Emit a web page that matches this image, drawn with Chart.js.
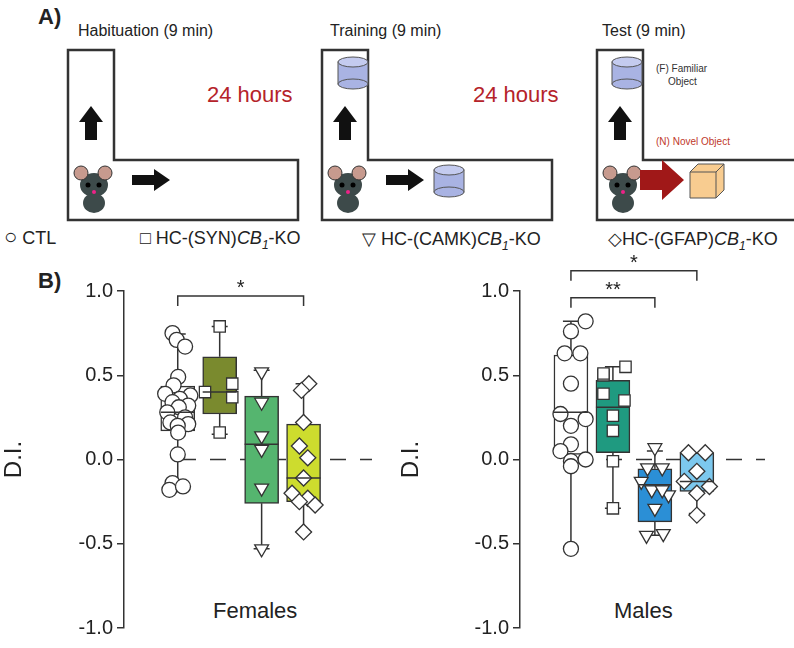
<!DOCTYPE html>
<html><head><meta charset="utf-8">
<script src="https://cdn.jsdelivr.net/npm/chart.js@4.4.1/dist/chart.umd.min.js"></script>
<style>
body{margin:0;width:794px;height:648px;position:relative;background:#fff;font-family:Arial,"Liberation Sans",sans-serif;overflow:hidden;color:#222}
.abs{position:absolute;white-space:nowrap}
canvas{position:absolute}
</style></head><body>
<script>
// ---- data ----
const groups = ['CTL','HC-(SYN)CB1-KO','HC-(CAMK)CB1-KO','HC-(GFAP)CB1-KO'];
const femalePoints = [
 [0.75,0.71,0.67,0.49,0.44,0.39,0.38,0.36,0.34,0.32,0.31,0.28,0.25,0.22,0.21,0.20,0.16,0.03,-0.14,-0.18,-0.16],
 [0.79,0.40,0.37,0.45,0.16],
 [0.52,0.34,0.14,0.06,-0.17,-0.53],
 [0.45,0.41,0.22,0.08,0.01,-0.11,-0.20,-0.23,-0.25,-0.27,-0.43]
];
const femaleJitter = [
 [-0.25,-0.05,0.35,0.02,-0.2,-0.6,0.6,0.1,-0.25,0.5,0.05,-0.5,0.35,-0.35,0.5,0.0,0.02,0,-0.25,-0.4,0.25],
 [0,-0.7,0.6,0.6,0],
 [0,0,0,0,0,0],
 [0.25,-0.1,0,-0.2,0.2,0,-0.55,0.2,-0.2,0.55,0]
];
const femaleBox = { q1:[0.17,0.27,-0.26,-0.25], med:[0.28,0.40,0.09,-0.11], q3:[0.435,0.61,0.376,0.21], lo:[-0.19,0.15,-0.53,-0.43], hi:[0.745,0.79,0.53,0.45] };
const malePoints = [
 [0.82,0.76,0.63,0.63,0.45,0.27,0.24,0.20,0.09,0.05,-0.01,-0.04,0.0,-0.53],
 [0.55,0.50,0.51,0.39,0.35,0.26,0.17,-0.01,-0.29],
 [0.07,-0.05,-0.05,-0.13,-0.18,-0.21,-0.18,-0.29,-0.45,-0.44],
 [0.04,0.04,-0.07,-0.13,-0.16,-0.20,-0.33]
];
const maleJitter = [
 [0.7,0.0,-0.3,0.45,0,-0.5,0.7,0,0,-0.5,0,0,0.7,0],
 [0.6,-0.45,-0.45,-0.45,0.55,0,0,0,0],
 [0,-0.35,0.35,-0.65,-0.15,0.65,0.35,0,-0.4,0.4],
 [-0.4,0.4,0,-0.6,0.6,0,0]
];
const maleBox = { q1:[0.03,0.04,-0.37,-0.19], med:[0.28,0.31,-0.15,-0.13], q3:[0.62,0.47,-0.055,0.04], lo:[-0.53,-0.29,-0.45,-0.32], hi:[0.82,0.55,0.05,0.04] };
const femaleColors = ['#ffffff','#7a8a2e','#55b56f','#cddc2e'];
const maleColors = ['#ffffff','#1f9a80','#2b8fd6','#7cc8ee'];
const pointStyles = ['circle','rect','triangle','rectRot'];
const pointRot = [0,0,180,0];
const yTicks = [-1.0,-0.5,0.0,0.5,1.0];
const femaleSig = [{from:1,to:4,y:0.97,label:'*'}];
const maleSig = [{from:1,to:3,y:0.96,label:'**'},{from:1,to:4,y:1.12,label:'*'}];
</script>

<!-- Panel A schematic -->
<div class="abs" style="left:38px;top:4px;font-size:22px;font-weight:bold">A)</div>
<div class="abs" style="left:78px;top:22px;font-size:16px">Habituation (9 min)</div>
<div class="abs" style="left:330px;top:22px;font-size:16px">Training (9 min)</div>
<div class="abs" style="left:602px;top:22px;font-size:16px">Test (9 min)</div>
<div class="abs" style="left:207px;top:82px;font-size:22px;color:#b5232a">24 hours</div>
<div class="abs" style="left:473px;top:82px;font-size:22px;color:#b5232a">24 hours</div>
<svg class="abs" style="left:0;top:0" width="794" height="235">
 <defs>
  <g id="L"><path d="M0,0 H46 V110 H230 V170 H0 Z" fill="#fff" stroke="#333" stroke-width="2.5"/></g>
  <g id="mouse">
   <ellipse cx="22" cy="20" rx="14" ry="12" fill="#3d4a4a"/>
   <circle cx="9" cy="8" r="7" fill="#c79a8e" stroke="#333"/>
   <circle cx="33" cy="8" r="7" fill="#c79a8e" stroke="#333"/>
   <ellipse cx="22" cy="38" rx="11" ry="10" fill="#3d4a4a"/>
   <circle cx="16" cy="20" r="2.5" fill="#000"/><circle cx="27" cy="20" r="2.5" fill="#000"/>
   <circle cx="22" cy="27" r="2" fill="#e28"/>
  </g>
  <g id="cyl"><rect x="0" y="6" width="30" height="22" fill="#a9b3e3" stroke="#555"/><ellipse cx="15" cy="28" rx="15" ry="5" fill="#a9b3e3" stroke="#555"/><ellipse cx="15" cy="6" rx="15" ry="5" fill="#c4cbef" stroke="#555"/></g>
  <g id="up"><path d="M-6,30 V12 H-12 L0,-4 L12,12 H6 V30 Z" fill="#111"/></g>
  <g id="right"><path d="M0,-5 H22 V-11 L38,0 L22,11 V5 H0 Z" fill="#111"/></g>
 </defs>
 <use href="#L" x="68" y="50"/><use href="#L" x="322" y="50"/><use href="#L" x="597" y="50"/>
 <use href="#up" x="91" y="110"/><use href="#up" x="345" y="110"/><use href="#up" x="620" y="110"/>
 <use href="#mouse" x="72" y="165"/><use href="#mouse" x="326" y="165"/><use href="#mouse" x="601" y="165"/>
 <use href="#right" x="132" y="180"/><use href="#right" x="386" y="180"/>
 <use href="#cyl" x="338" y="56"/><use href="#cyl" x="434" y="164"/><use href="#cyl" x="612" y="56"/>
 <path d="M640,170 H662 V160 L684,180 L662,200 V190 H640 Z" fill="#a01818"/>
 <path d="M690,172 L698,164 H724 V190 L716,198 H690 Z" fill="#f8cc90" stroke="#555"/>
 <path d="M690,172 H716 V198 M716,172 L724,164" fill="none" stroke="#555"/>
 <text x="656" y="72" font-size="10" fill="#333">(F) Familiar</text>
 <text x="668" y="85" font-size="10" fill="#333">Object</text>
 <text x="656" y="145" font-size="10" fill="#c0392b">(N) Novel Object</text>
</svg>

<!-- legend -->
<div class="abs" style="left:4px;top:228px;font-size:18px"><span style="font-size:22px;line-height:18px">○</span> CTL</div>
<div class="abs" style="left:140px;top:228px;font-size:18px">□ HC-(SYN)<i>CB</i><sub style="font-size:12px"><i>1</i></sub>-KO</div>
<div class="abs" style="left:362px;top:228px;font-size:18px">▽ HC-(CAMK)<i>CB</i><sub style="font-size:12px"><i>1</i></sub>-KO</div>
<div class="abs" style="left:608px;top:228px;font-size:18px">◇HC-(GFAP)<i>CB</i><sub style="font-size:12px"><i>1</i></sub>-KO</div>
<div class="abs" style="left:38px;top:268px;font-size:22px;font-weight:bold">B)</div>
<div class="abs" style="left:213px;top:598px;font-size:22px">Females</div>
<div class="abs" style="left:614px;top:598px;font-size:22px">Males</div>

<canvas id="cf" style="left:0;top:240px" width="397" height="408"></canvas>
<canvas id="cm" style="left:397px;top:240px" width="397" height="408"></canvas>
<script>
function build(id, pts, jit, box, colors, sig, yAxisW, xmin, xmax, padRight){
  const datasets = [];
  datasets.push({type:'bar', data: box.q1.map((q,i)=>({x:i+1,y:[q,box.q3[i]]})),
    backgroundColor:colors, borderColor:'#333', borderWidth:1.5, borderSkipped:false,
    barThickness:34, grouped:false, order:3});
  pts.forEach((arr,g)=>{
    datasets.push({type:'scatter', data: arr.map((v,k)=>({x:g+1+jit[g][k]*0.5,y:v})),
      pointStyle:pointStyles[g], rotation:pointRot[g], pointRadius:g===0?7.5:8,
      backgroundColor:'#fff', borderColor:'#333', borderWidth:1.3, order:1});
  });
  const plugin = {id:'extras',
    beforeDatasetsDraw(c){
      const x=c.scales.x,y=c.scales.y,ctx=c.ctx;
      ctx.save();ctx.strokeStyle='#333';ctx.lineWidth=1.5;ctx.setLineDash([16,14]);
      ctx.beginPath();ctx.moveTo(c.chartArea.left+56,y.getPixelForValue(0));ctx.lineTo(c.chartArea.right,y.getPixelForValue(0));ctx.stroke();
      ctx.setLineDash([]);
      box.lo.forEach((lo,i)=>{
        const px=x.getPixelForValue(i+1);
        ctx.beginPath();
        ctx.moveTo(px,y.getPixelForValue(box.q1[i]));ctx.lineTo(px,y.getPixelForValue(lo));
        ctx.moveTo(px,y.getPixelForValue(box.q3[i]));ctx.lineTo(px,y.getPixelForValue(box.hi[i]));
        ctx.moveTo(px-8,y.getPixelForValue(lo));ctx.lineTo(px+8,y.getPixelForValue(lo));
        ctx.moveTo(px-8,y.getPixelForValue(box.hi[i]));ctx.lineTo(px+8,y.getPixelForValue(box.hi[i]));
        ctx.stroke();
      });
      ctx.restore();
    },
    afterDatasetsDraw(c){
      const x=c.scales.x,y=c.scales.y,ctx=c.ctx;
      ctx.save();ctx.strokeStyle='#333';ctx.lineWidth=1.5;
      box.med.forEach((m,i)=>{const px=x.getPixelForValue(i+1),py=y.getPixelForValue(m);
        ctx.beginPath();ctx.moveTo(px-17,py);ctx.lineTo(px+17,py);ctx.stroke();});
      ctx.fillStyle='#222';ctx.font='20px Arial';ctx.textAlign='center';
      sig.forEach(s=>{const x1=x.getPixelForValue(s.from),x2=x.getPixelForValue(s.to),py=y.getPixelForValue(s.y);
        ctx.beginPath();ctx.moveTo(x1,py+10);ctx.lineTo(x1,py);ctx.lineTo(x2,py);ctx.lineTo(x2,py+10);ctx.stroke();
        ctx.fillText(s.label,(x1+x2)/2,py-2);});
      ctx.restore();
    }};
  new Chart(document.getElementById(id),{
    data:{datasets},
    plugins:[plugin],
    options:{responsive:false,animation:false,devicePixelRatio:1,
      layout:{padding:{top:51,bottom:20,right:padRight,left:0}},
      plugins:{legend:{display:false},tooltip:{enabled:false}},
      scales:{
        x:{type:'linear',display:false,min:xmin,max:xmax},
        y:{min:-1,max:1,afterBuildTicks(a){a.ticks=yTicks.map(v=>({value:v}));},
          afterFit(a){a.width=yAxisW;},
          ticks:{color:'#222',font:{size:20,family:'Arial'},callback:v=>v.toFixed(1),padding:4},
          grid:{drawOnChartArea:false,tickLength:7,color:'#333',lineWidth:1.5},
          border:{display:true,color:'#333',width:1.5},
          title:{display:true,text:'D.I.',font:{size:24,family:'Arial'},color:'#222',padding:0}}
      }}
  });
}
build('cf',femalePoints,femaleJitter,femaleBox,femaleColors,femaleSig,124,0.31,5.04,25);
build('cm',malePoints,maleJitter,maleBox,maleColors,maleSig,123,0.37,5.04,29);
</script>
</body></html>
